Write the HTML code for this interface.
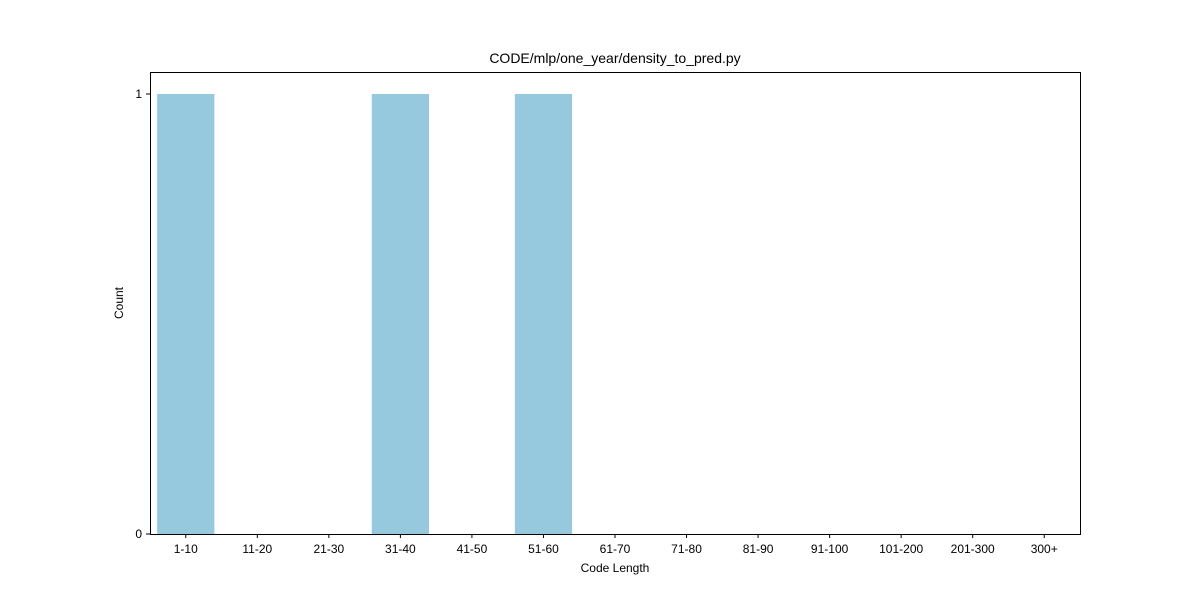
<!DOCTYPE html>
<html><head><meta charset="utf-8"><style>
body{margin:0;background:#fff;}
svg text{font-family:"Liberation Sans","DejaVu Sans",sans-serif;fill:#000;}
</style></head><body>
<svg id="chart" width="1200" height="600" xmlns="http://www.w3.org/2000/svg">
<rect width="1200" height="600" fill="#fff"/>
<text x="615" y="63" font-size="14" text-anchor="middle">CODE/mlp/one_year/density_to_pred.py</text>
<g id="bars"></g>
<rect x="150.5" y="72.5" width="930" height="462" fill="none" stroke="#000" stroke-width="1"/>
<g id="ticks"></g>
<text x="615" y="572" font-size="12" text-anchor="middle">Code Length</text>
<text x="123" y="303" font-size="12" text-anchor="middle" transform="rotate(-90 123 303)">Count</text>
</svg>
<script>
const categories=["1-10","11-20","21-30","31-40","41-50","51-60","61-70","71-80","81-90","91-100","101-200","201-300","300+"];
const counts=[1,0,0,1,0,1,0,0,0,0,0,0,0];
const yTicks=[0,1];
const ns="http://www.w3.org/2000/svg";
const L=150,R=1080,T=72,B=534,yMax=1.05;
const slot=(R-L)/categories.length;
const xc=i=>L+slot*(i+0.5);
const y=v=>B-(B-T)*v/yMax;
const bars=document.getElementById('bars'),ticks=document.getElementById('ticks');
categories.forEach((c,i)=>{
  const r=document.createElementNS(ns,'rect');
  
  
  const w=slot*0.8;
  r.setAttribute('x',xc(i)-w/2);r.setAttribute('width',w);
  r.setAttribute('y',y(counts[i]));r.setAttribute('height',B-y(counts[i]));
  r.setAttribute('fill','#96c9de');
  bars.appendChild(r);
  const l=document.createElementNS(ns,'line');
  
  
  l.setAttribute('x1',xc(i));l.setAttribute('x2',xc(i));l.setAttribute('y1',B);l.setAttribute('y2',B+4);
  l.setAttribute('stroke','#000');ticks.appendChild(l);
  const t=document.createElementNS(ns,'text');
  
  
  t.setAttribute('x',xc(i));t.setAttribute('y',B+19);t.setAttribute('font-size','12');t.setAttribute('text-anchor','middle');
  t.textContent=c;ticks.appendChild(t);
});
yTicks.forEach(v=>{
  const l=document.createElementNS(ns,'line');
  
  
  l.setAttribute('x1',L-4);l.setAttribute('x2',L);l.setAttribute('y1',y(v));l.setAttribute('y2',y(v));
  l.setAttribute('stroke','#000');ticks.appendChild(l);
  const t=document.createElementNS(ns,'text');
  
  
  t.setAttribute('x',L-8);t.setAttribute('y',y(v)+4);t.setAttribute('font-size','12');t.setAttribute('text-anchor','end');
  t.textContent=v;ticks.appendChild(t);
});
</script>
</body></html>
